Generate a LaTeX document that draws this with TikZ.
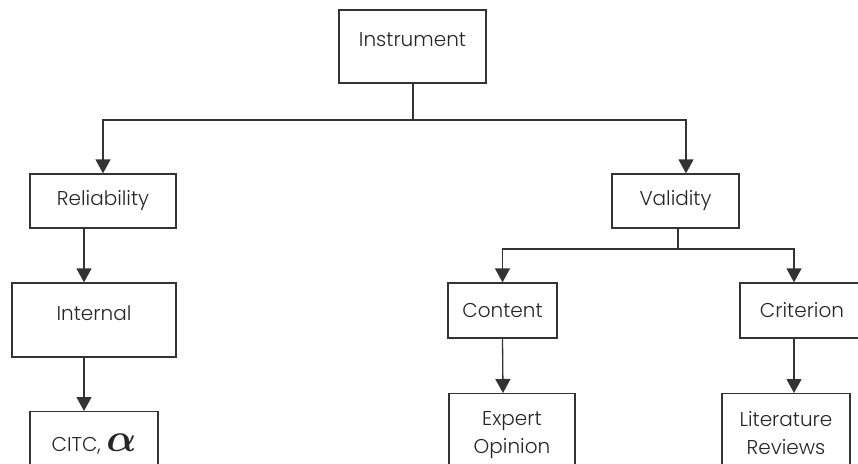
\documentclass[tikz,border=0pt]{standalone}
\usepackage{graphicx}
\usepackage{fontspec}
\setmainfont{Poppins}[UprightFont={* Light}]
\usepackage{bm}
\usetikzlibrary{arrows.meta}

\begin{document}
\begin{tikzpicture}[x=1pt, y=-1pt]
    % Define box styles
    \tikzstyle{box} = [draw=black!80, rectangle, line width=1.3pt, font=\fontsize{20}{28}\selectfont, text=black!85, inner sep=0pt]
    \tikzstyle{leaf} = [box, anchor=north, align=center, inner ysep=18pt]
    \tikzstyle{arrow} = [-{Triangle[width=15pt,length=14pt]}, draw=black!80, line width=1.3pt]

    \useasboundingbox (0,0) rectangle (858,463);
    \clip (0,0) rectangle (858,463);

    % Box nodes
    \node[box, minimum width=147pt, minimum height=73pt, text depth=14pt] (instr) at (412.5,46.5) {Instrument};
    \node[box, minimum width=146pt, minimum height=54pt] (rel) at (103,201) {Reliability};
    \node[box, minimum width=127pt, minimum height=54pt] (val) at (675.5,201) {Validity};
    \node[box, minimum width=164pt, minimum height=74pt, text depth=14pt] (int) at (94,320) {Internal};
    \node[box, minimum width=109pt, minimum height=55pt] (cont) at (502.5,310.5) {Content};
    \node[box, minimum width=124pt, minimum height=55pt] (crit) at (802,310.5) {Criterion};
    \node[leaf, minimum width=128pt, inner ysep=22pt] (citc) at (94,411) {CITC, \scalebox{1.9}{\huge$\bm{\alpha}$}};
    \node[leaf, minimum width=126pt] (exp) at (512,393) {Expert\\Opinion};
    \node[leaf, minimum width=128pt] (lit) at (786,393) {Literature\\Reviews};

    % Connectors
    \coordinate (split1) at (413,120);
    \coordinate (split2) at (678,249);
    \draw[draw=black!80, line width=1.3pt] (split1 |- instr.south) -- (split1);
    \draw[arrow] (split1) -| (rel.north);
    \draw[arrow] (split1) -| ([xshift=10.5pt]val.north);
    \draw[arrow] ([xshift=-19pt]rel.south) -- ([xshift=-10pt]int.north);
    \draw[arrow] ([xshift=-10pt]int.south) -- ([xshift=-10pt]citc.north);
    \draw[draw=black!80, line width=1.3pt] (split2 |- val.south) -- (split2);
    \draw[arrow] (split2) -| (cont.north);
    \draw[arrow] (split2) -| ([xshift=-8pt]crit.north);
    \draw[arrow] (cont.south) -- ([xshift=-9pt]exp.north);
    \draw[arrow] ([xshift=-8pt]crit.south) -- ([xshift=8pt]lit.north);
\end{tikzpicture}
\end{document}
